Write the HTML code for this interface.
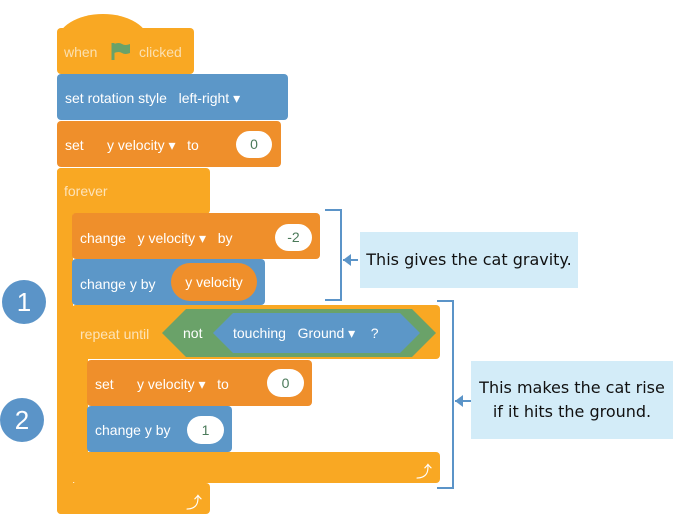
<!DOCTYPE html>
<html><head><meta charset="utf-8"><style>
body{margin:0;width:673px;height:529px;background:#fff;position:relative;overflow:hidden;font-family:"Liberation Sans",sans-serif;}
.b{position:absolute;border-radius:4px;}
.t{position:absolute;color:#fff;font-size:14px;white-space:nowrap;}
.y{background:#f9a823;}
.o{background:#ef8f2b;}
.bl{background:#5c97c8;}
.pill{position:absolute;background:#fff;border-radius:14px;color:#4b7a5a;font-size:14px;text-align:center;}
.note{position:absolute;background:#d3ecf8;color:#111;font-family:"Comic Sans MS","DejaVu Sans",sans-serif;font-size:16px;text-align:center;}
.circ{position:absolute;width:44px;height:44px;border-radius:50%;background:#5b94c8;color:#fff;font-size:26px;text-align:center;line-height:44px;}
</style></head><body>
<!-- forever structure -->
<div class="b y" style="left:57px;top:168px;width:153px;height:46px;"></div>
<div class="b y" style="left:57px;top:168px;width:16px;height:346px;"></div>
<div class="b y" style="left:57px;top:483px;width:153px;height:31px;"></div>
<!-- hat -->
<div class="b y" style="left:57px;top:28px;width:137px;height:46px;"></div>
<div style="position:absolute;left:57px;top:14px;width:92px;height:40px;background:#f9a823;border-radius:50% 50% 0 0/70% 70% 0 0;"></div>
<div class="t" style="left:64px;top:44px;color:#fbe0b0">when</div>
<svg style="position:absolute;left:111px;top:41px" width="20" height="20"><path d="M2 2v17" stroke="#6aa269" stroke-width="3"/><path d="M3 3q5-2 8 0t8 0v9q-5 2-8 0t-8 0z" fill="#6aa269"/></svg>
<div class="t" style="left:139px;top:44px;color:#fbe0b0">clicked</div>
<!-- rotation -->
<div class="b bl" style="left:57px;top:74px;width:231px;height:46px;"></div>
<div class="t" style="left:65px;top:90px">set rotation style &nbsp; left-right ▾</div>
<!-- set -->
<div class="b o" style="left:57px;top:121px;width:224px;height:46px;"></div>
<div class="t" style="left:65px;top:137px">set &nbsp; &nbsp; &nbsp;y velocity ▾ &nbsp; to</div>
<div class="pill" style="left:236px;top:131px;width:36px;height:27px;line-height:27px">0</div>
<div class="t" style="left:64px;top:183px;color:#fde3b8">forever</div>
<!-- change y velocity -->
<div class="b o" style="left:72px;top:213px;width:248px;height:46px;"></div>
<div class="t" style="left:80px;top:230px">change &nbsp; y velocity ▾ &nbsp; by</div>
<div class="pill" style="left:275px;top:224px;width:37px;height:27px;line-height:27px">-2</div>
<!-- change y by velocity -->
<div class="b bl" style="left:72px;top:259px;width:193px;height:46px;"></div>
<div class="t" style="left:80px;top:276px">change y by</div>
<div style="position:absolute;left:171px;top:263px;width:86px;height:38px;border-radius:19px;background:#ef8f2b;color:#fff;font-size:14px;line-height:38px;text-align:center">y velocity</div>
<!-- repeat until -->
<div class="b y" style="left:72px;top:305px;width:368px;height:54px;"></div>
<div class="b y" style="left:72px;top:305px;width:16px;height:178px;"></div>
<div class="b y" style="left:72px;top:452px;width:368px;height:31px;"></div>
<div class="t" style="left:80px;top:326px;color:#fde3b8">repeat until</div>
<svg style="position:absolute;left:162px;top:308px" width="275" height="50">
<polygon points="0,25 24,1 250,1 274,25 250,49 24,49" fill="#6aa269"/>
<polygon points="51,25 71,5 238,5 258,25 238,45 71,45" fill="#5c97c8"/>
<text x="21" y="30" fill="#fff" font-size="14" font-family="Liberation Sans">not</text>
<text x="71" y="30" fill="#fff" font-size="14" font-family="Liberation Sans">touching &#160;&#160;Ground ▾ &#160;&#160;&#160;?</text>
</svg>
<!-- set inner -->
<div class="b o" style="left:87px;top:360px;width:225px;height:46px;"></div>
<div class="t" style="left:95px;top:376px">set &nbsp; &nbsp; &nbsp;y velocity ▾ &nbsp; to</div>
<div class="pill" style="left:267px;top:369px;width:37px;height:28px;line-height:28px">0</div>
<div class="b bl" style="left:87px;top:406px;width:145px;height:46px;"></div>
<div class="t" style="left:95px;top:422px">change y by</div>
<div class="pill" style="left:187px;top:416px;width:37px;height:28px;line-height:28px">1</div>
<div class="t" style="left:416px;top:458px;font-size:16px">⤴</div>
<div class="t" style="left:186px;top:489px;font-size:16px">⤴</div>
<!-- circles -->
<div class="circ" style="left:2px;top:280px">1</div>
<div class="circ" style="left:0px;top:398px">2</div>
<!-- brackets -->
<svg style="position:absolute;left:0;top:0" width="673" height="529">
<path d="M325 210H341V300H325" fill="none" stroke="#5b94c8" stroke-width="2"/>
<path d="M343 260H358" stroke="#5b94c8" stroke-width="2"/><polygon points="343,260 351,254 351,266" fill="#5b94c8"/>
<path d="M437 301H453V488H437" fill="none" stroke="#5b94c8" stroke-width="2"/>
<path d="M455 401H471" stroke="#5b94c8" stroke-width="2"/><polygon points="455,401 463,395 463,407" fill="#5b94c8"/>
</svg>
<div class="note" style="left:360px;top:232px;width:218px;height:56px;line-height:56px">This gives the cat gravity.</div>
<div class="note" style="left:471px;top:361px;width:202px;height:78px;line-height:24px;padding-top:15px;box-sizing:border-box">This makes the cat rise<br>if it hits the ground.</div>
</body></html>
